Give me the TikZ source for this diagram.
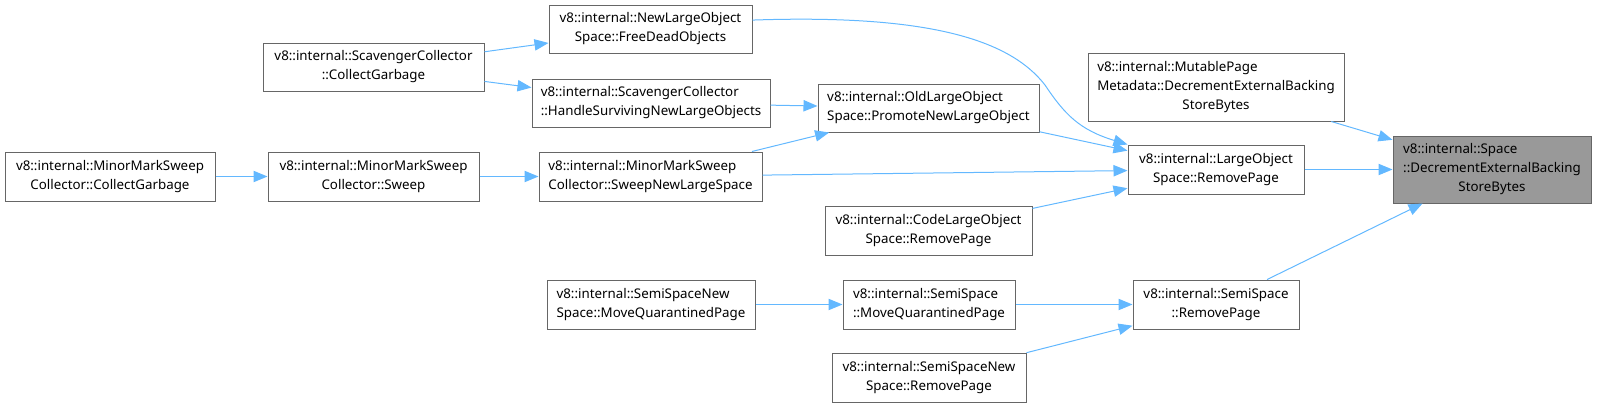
\documentclass[tikz,border=0pt]{standalone}
\usepackage{fontspec}
\setmainfont{Noto Sans}
\usetikzlibrary{arrows.meta}
\definecolor{callblue}{HTML}{63B8FF}
\definecolor{framegrey}{HTML}{666666}
\definecolor{focusgrey}{HTML}{999999}
\tikzset{
  fn/.style 2 args={draw=framegrey,fill=white,line width=0.75pt,align=left,
    inner sep=0pt,font=\fontsize{10}{14.25}\selectfont,
    minimum width=#1*0.75pt,minimum height=#2*0.75pt},
  call/.style={->,draw=callblue,line width=0.75pt}
}
\begin{document}
\begin{tikzpicture}[x=0.75pt,y=-0.75pt,>={Triangle[length=10.5pt,width=8.5pt]}]
 \useasboundingbox (0,0) rectangle (1597,407);
 % callers, left to right
 \node[fn={210}{49}] (mmscg) at (110,176.5) {v8::internal::MinorMarkSweep\\\hfil Collector::CollectGarbage};
 \node[fn={221}{48}] (sccg) at (373.5,67) {v8::internal::ScavengerCollector\\\hfil ::CollectGarbage};
 \node[fn={211}{49}] (mmss) at (373.5,176.5) {v8::internal::MinorMarkSweep\\\hfil Collector::Sweep};
 \node[fn={203}{48}] (fdo) at (650.5,29) {v8::internal::NewLargeObject\\\hfil Space::FreeDeadObjects};
 \node[fn={238}{48}] (hsnlo) at (651,103) {v8::internal::ScavengerCollector\\\hfil ::HandleSurvivingNewLargeObjects};
 \node[fn={223}{49}] (snls) at (650.5,176.5) {v8::internal::MinorMarkSweep\\\hfil Collector::SweepNewLargeSpace};
 \node[fn={208}{49}] (ssnsmqp) at (651,304.5) {v8::internal::SemiSpaceNew\\\hfil Space::MoveQuarantinedPage};
 \node[fn={221}{48}] (pnlo) at (928.5,108) {v8::internal::OldLargeObject\\\hfil Space::PromoteNewLargeObject};
 \node[fn={207}{49}] (clorp) at (928.5,230.5) {v8::internal::CodeLargeObject\\\hfil Space::RemovePage};
 \node[fn={172}{49}] (ssmqp) at (929,304.5) {v8::internal::SemiSpace\\\hfil ::MoveQuarantinedPage};
 \node[fn={194}{49}] (ssnsrp) at (929,377.5) {v8::internal::SemiSpaceNew\\\hfil Space::RemovePage};
 \node[fn={256}{68}] (mpdebsb) at (1216,87) {v8::internal::MutablePage\\Metadata::DecrementExternalBacking\\\hfil StoreBytes};
 \node[fn={176}{49}] (lorp) at (1216,169.5) {v8::internal::LargeObject\\\hfil Space::RemovePage};
 \node[fn={166}{49}] (ssrp) at (1216,304.5) {v8::internal::SemiSpace\\\hfil ::RemovePage};
 \node[fn={198}{67},fill=focusgrey] (sdebsb) at (1492,169.5) {v8::internal::Space\\::DecrementExternalBacking\\\hfil StoreBytes};
 % calls
 \draw[call] (sccg) -- (fdo);
 \draw[call] (sccg) -- (hsnlo);
 \draw[call] (hsnlo) -- (pnlo);
 \draw[call] (mmscg) -- (mmss);
 \draw[call] (mmss) -- (snls);
 \draw[call] (snls) -- (pnlo);
 \draw[call] (snls) -- (lorp);
 \draw[call] (fdo.5) .. controls (930,14) and (1010,40) .. (1045,85)
       .. controls (1065,115) and (1080,130) .. (lorp.north west);
 \draw[call] (pnlo) -- (lorp);
 \draw[call] (clorp) -- (lorp);
 \draw[call] (lorp) -- (sdebsb);
 \draw[call] (mpdebsb) -- (sdebsb);
 \draw[call] (ssrp) -- (sdebsb);
 \draw[call] (ssnsmqp) -- (ssmqp);
 \draw[call] (ssmqp) -- (ssrp);
 \draw[call] (ssnsrp) -- (ssrp);
\end{tikzpicture}
\end{document}
